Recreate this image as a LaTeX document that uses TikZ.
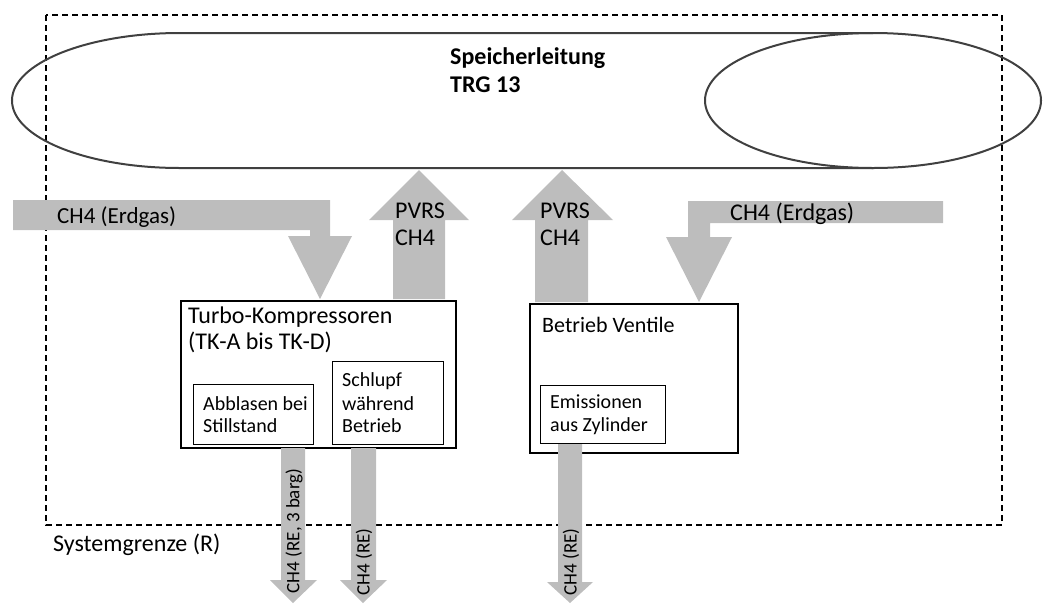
\documentclass[tikz,border=0pt]{standalone}
\usepackage{fontspec}
\setmainfont{Carlito}
\begin{document}
\begin{tikzpicture}[x=1pt,y=-1pt,
  arr/.style={fill=black!26,draw=none},
  bigbox/.style={draw=black,line width=1.8pt,fill=white,inner sep=0,anchor=north west},
  subbox/.style={draw=black,line width=0.8pt,fill=white,inner sep=0,anchor=north west},
  cyl/.style={draw=black!75,line width=2pt},
  bound/.style={draw=black,line width=1.1pt,dash pattern=on 6pt off 4pt},
  lbl/.style={inner sep=0,anchor=base west,font=\fontsize{22}{27}\selectfont},
  sml/.style={inner sep=0,anchor=base west,font=\fontsize{20}{22}\selectfont},
  vlbl/.style={inner sep=0,rotate=90,font=\fontsize{19}{22}\selectfont}]
\useasboundingbox (0,0) rectangle (1046,606);

% system boundary
\draw[bound] (46,15) rectangle (1002,525);

% storage pipeline (cylinder)
\draw[cyl] (873,33) -- (180,33) arc[start angle=270,end angle=90,x radius=168,y radius=67.5] -- (873,168);
\draw[cyl] (873,100.5) ellipse[x radius=168,y radius=67.5];
\node[inner sep=0,anchor=base west,font=\fontsize{24}{28}\bfseries] (sp1) at (450,64) {Speicherleitung};
\node[inner sep=0,anchor=base west,font=\fontsize{24}{28}\bfseries] (sp2) at (450,92) {TRG 13};

% boxes
\node[bigbox,minimum width=275,minimum height=147] (turbo) at (180,300) {};
\node[bigbox,minimum width=208,minimum height=149] (vent) at (529,303) {};
\node[subbox,minimum width=120,minimum height=60] (abbl) at (193,384) {};
\node[subbox,minimum width=111,minimum height=83] (schl) at (332,361) {};
\node[subbox,minimum width=125,minimum height=58] (emis) at (540,385) {};

% arrows
\fill[arr] (13,200) -- (330,200) -- (330,236) -- (352,236) -- (320,299) -- (288,236) -- (310,236) -- (310,230) -- (13,230) -- cycle;
\fill[arr] (393,299) -- (393,220) -- (369,220) -- (419,170) -- (469,220) -- (445,220) -- (445,299) -- cycle;
\fill[arr] (535,302) -- (535,220) -- (512,220) -- (562,170) -- (613,220) -- (588,220) -- (588,302) -- cycle;
\fill[arr] (943,201) -- (688,201) -- (688,237) -- (666,237) -- (699,302) -- (732,237) -- (710,237) -- (710,223) -- (943,223) -- cycle;
\fill[arr] (281,448) -- (281,580) -- (270,580) -- (293,603) -- (317,580) -- (305,580) -- (305,448) -- cycle;
\fill[arr] (351,448) -- (351,580) -- (340,580) -- (363,603) -- (387,580) -- (376,580) -- (376,448) -- cycle;
\fill[arr] (558,444) -- (558,582) -- (547,582) -- (570,603) -- (593,582) -- (582,582) -- (582,444) -- cycle;

% arrow labels
\node[lbl,font=\fontsize{23}{27}\selectfont] (e1) at (57,223) {CH4 (Erdgas)};
\node[lbl,font=\fontsize{24}{28}\selectfont] (e2) at (730,220) {CH4 (Erdgas)};
\node[lbl,font=\fontsize{24}{28}\selectfont] (p1a) at (395,218) {PVRS};
\node[lbl,font=\fontsize{24}{28}\selectfont] (p1b) at (395,245) {CH4};
\node[lbl,font=\fontsize{24}{28}\selectfont] (p2a) at (540,218) {PVRS};
\node[lbl,font=\fontsize{24}{28}\selectfont] (p2b) at (540,245) {CH4};
\node[vlbl] (r1) at (294,531) {CH4 (RE, 3 barg)};
\node[vlbl] (r2) at (364,562) {CH4 (RE)};
\node[vlbl] (r3) at (571,562) {CH4 (RE)};

% box texts
\node[lbl,font=\fontsize{24}{27}\selectfont] (t1) at (188,323) {Turbo-Kompressoren};
\node[lbl,font=\fontsize{24}{27}\selectfont] (t2) at (188,349) {(TK-A bis TK-D)};
\node[lbl] (v1) at (542,332) {Betrieb Ventile};
\node[sml] (a1) at (203,410) {Abblasen bei};
\node[sml] (a2) at (203,432) {Stillstand};
\node[sml] (s1) at (342,386) {Schlupf};
\node[sml] (s2) at (342,410) {während};
\node[sml] (s3) at (342,432) {Betrieb};
\node[sml] (m1) at (550,408) {Emissionen};
\node[sml] (m2) at (550,431) {aus Zylinder};

\node[lbl,font=\fontsize{24}{28}\selectfont] (sg) at (53,551) {Systemgrenze (R)};
\end{tikzpicture}
\end{document}
